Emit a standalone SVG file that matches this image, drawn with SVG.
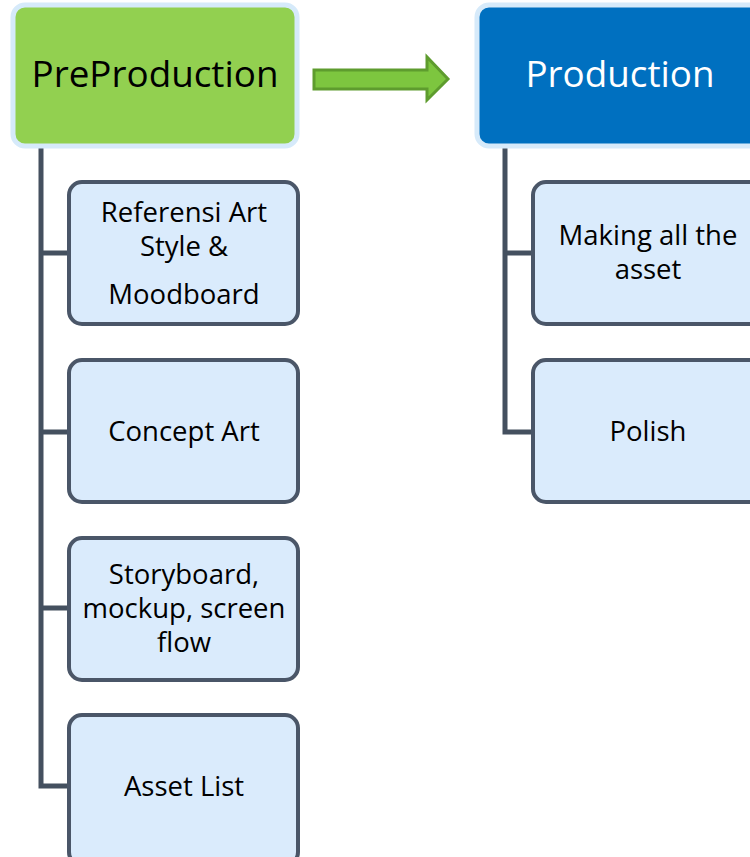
<svg xmlns="http://www.w3.org/2000/svg" width="750" height="857" viewBox="0 0 750 857">
<style>
text{font-family:"Open Sans","Liberation Sans",sans-serif;text-anchor:middle;fill:#000;font-variant-ligatures:none}
.t{font-size:27.5px}
.h{font-size:36.8px}
.child{fill:#DAEBFC;stroke:#4A5668;stroke-width:4}
.conn{fill:none;stroke:#44505F;stroke-width:5;stroke-linejoin:miter}
</style>
<rect width="750" height="857" fill="#fff"/>
<g id="connectors">
<path class="conn" d="M41 145 V786 H70 M41 253 H70 M41 432 H70 M41 608 H70"/>
<path class="conn" d="M505 145 V432 H534 M505 253 H534"/>
<path d="M314 70 H427 V57 L448 79 L427 100 V89 H314 Z" fill="#7DC63F" stroke="#5E9C2E" stroke-width="3"/>
</g>
<g id="preproduction">
<rect x="13" y="5" width="284" height="141" rx="12" fill="#92D050" stroke="#D6EAFA" stroke-width="5"/>
<text class="h" x="155" y="87">PreProduction</text>
</g>
<g id="production">
<rect x="477" y="5" width="290" height="141" rx="12" fill="#0070C0" stroke="#D6EAFA" stroke-width="5"/>
<text class="h" x="620" y="87" style="fill:#fff">Production</text>
</g>
<g id="ref">
<rect class="child" x="69" y="182" width="229" height="142" rx="13"/>
<text class="t" x="184" y="222">Referensi Art</text>
<text class="t" x="184" y="256">Style &amp;</text>
<text class="t" x="184" y="304">Moodboard</text>
</g>
<g id="concept">
<rect class="child" x="69" y="360" width="229" height="142" rx="13"/>
<text class="t" x="184" y="441">Concept Art</text>
</g>
<g id="storyboard">
<rect class="child" x="69" y="538" width="229" height="142" rx="13"/>
<text class="t" x="184" y="584">Storyboard,</text>
<text class="t" x="184" y="618">mockup, screen</text>
<text class="t" x="184" y="652">flow</text>
</g>
<g id="assetlist">
<rect class="child" x="69" y="715" width="229" height="150" rx="13"/>
<text class="t" x="184" y="796">Asset List</text>
</g>
<g id="making">
<rect class="child" x="533" y="182" width="240" height="142" rx="13"/>
<text class="t" x="648" y="245">Making all the</text>
<text class="t" x="648" y="279">asset</text>
</g>
<g id="polish">
<rect class="child" x="533" y="360" width="240" height="142" rx="13"/>
<text class="t" x="648" y="441">Polish</text>
</g>
</svg>
